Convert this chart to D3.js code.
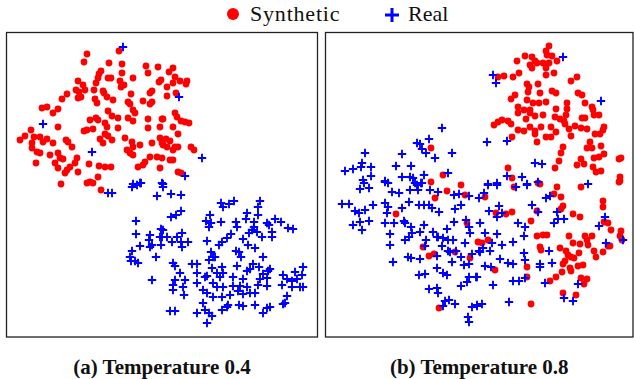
<!DOCTYPE html>
<html>
<head>
<meta charset="utf-8">
<script src="https://cdn.jsdelivr.net/npm/d3@7"></script>
<style>
  body { margin: 0; background: #fff; }
  svg { display: block; }
</style>
</head>
<body>
<svg id="chart" width="634" height="379"></svg>
<script>
// embedding coordinates (picture units)
const syntheticA = [
  [87,54],[84,62],[119,51],[109,63],[122,64],[146,66],[148,73],[158,67],[101,71],[99,74],[122,73],[98,78],[108,78],[111,78],
  [120,81],[133,78],[124,85],[121,87],[161,80],[159,82],[78,81],[83,85],[96,83],[94,90],[103,91],[104,93],[76,90],[79,92],
  [85,90],[67,94],[62,99],[78,98],[81,97],[95,99],[97,103],[107,97],[113,100],[131,94],[128,102],[130,104],[152,91],[150,93],
  [143,101],[152,102],[150,104],[47,107],[42,108],[58,109],[53,113],[108,111],[112,116],[118,118],[133,110],[135,113],[90,120],
  [96,118],[98,120],[93,129],[87,130],[84,131],[105,123],[107,127],[118,128],[128,118],[133,121],[148,119],[148,128],[162,119],
  [160,127],[31,130],[25,136],[20,140],[34,137],[40,137],[32,143],[43,142],[47,139],[53,143],[58,127],[105,134],[108,136],
  [112,140],[100,139],[103,143],[66,140],[68,142],[72,147],[125,138],[132,142],[127,150],[133,147],[140,145],[130,153],[133,155],
  [152,143],[160,138],[162,143],[32,148],[37,152],[40,153],[50,155],[58,153],[60,158],[63,159],[36,163],[77,158],[75,163],
  [70,167],[67,170],[65,173],[58,168],[55,163],[78,172],[89,164],[99,166],[105,167],[111,167],[98,177],[138,167],[143,165],
  [145,162],[150,157],[157,157],[162,158],[160,168],[90,182],[87,183],[93,183],[61,184],[101,190],
  [173,68],[169,72],[175,77],[180,81],[173,83],[187,81],[186,84],[167,87],[176,93],[167,96],[175,113],[177,117],[181,121],
  [185,122],[189,123],[163,119],[173,127],[178,134],[166,139],[170,141],[163,145],[167,147],[175,147],[178,147],[173,150],
  [191,147],[194,150],[170,160],[173,160],[178,172],[181,173]
];

const realA = [
  [123,47],[43,124],[92,152],[133,184],[140,183],[162,183],[179,97],[202,158],[185,176],[163,184],[163,187],
  [108,193],[112,193],[132,187],[137,185],[141,183],[157,196],[136,221],[136,234],[150,235],[149,240],[152,245],[150,247],
  [161,229],[160,237],[161,245],[140,246],[132,251],[130,257],[131,261],[135,261],[138,263],[156,257],[152,280],
  [171,194],[181,195],[221,203],[223,207],[229,204],[234,201],[260,201],[258,207],[247,213],[258,215],[171,217],[176,215],
  [181,211],[210,215],[206,221],[211,223],[209,227],[221,222],[236,222],[237,227],[246,219],[254,222],[254,227],[267,223],
  [269,225],[275,219],[281,222],[288,228],[293,229],[163,230],[162,237],[177,237],[182,233],[167,237],[172,242],[181,242],
  [188,242],[182,247],[207,241],[219,245],[222,242],[227,238],[231,234],[249,233],[252,230],[257,232],[262,237],[243,239],
  [272,232],[272,237],[248,245],[255,248],[211,252],[213,257],[209,260],[215,257],[236,251],[239,252],[241,257],[263,257],
  [173,263],[175,266],[192,264],[197,264],[212,268],[222,267],[237,266],[253,264],[259,267],[268,271],[270,269],[180,273],
  [197,273],[217,273],[223,273],[247,271],[250,269],[263,274],[207,276],[205,277],[220,277],[233,277],[243,279],[260,279],
  [267,278],[303,267],[295,272],[302,275],[283,275],[287,279],[292,281],[297,279],[175,280],[185,280],[173,285],[183,287],
  [173,290],[197,283],[213,283],[217,287],[223,287],[233,286],[240,286],[247,287],[258,285],[267,286],[282,285],[292,287],
  [300,287],[303,287],[203,290],[207,293],[213,297],[222,297],[230,295],[238,291],[243,294],[250,293],[255,293],[184,295],
  [287,296],[203,303],[228,305],[239,305],[243,306],[255,305],[270,307],[267,308],[283,304],[285,303],[205,310],[209,313],
  [212,316],[197,313],[222,310],[227,307],[170,311],[175,311],[263,313],[207,323]
];

const syntheticB = [
  [431,148],[443,175],[431,182],[461,185],
  [549,46],[546,51],[547,55],[552,56],[525,56],[517,61],[532,57],[535,61],[530,65],[532,68],[537,63],[543,63],[549,63],
  [557,61],[546,68],[554,73],[546,75],[498,77],[504,76],[513,77],[519,73],[571,81],[577,77],[527,84],[529,87],[538,84],
  [528,92],[540,93],[552,91],[556,93],[515,95],[511,99],[578,93],[582,95],[527,100],[533,103],[539,103],[546,102],[567,103],
  [585,103],[518,107],[524,110],[530,110],[530,113],[518,113],[535,116],[543,115],[556,109],[567,109],[592,107],[593,110],
  [555,117],[560,119],[566,115],[564,121],[582,118],[585,118],[594,115],[599,115],[526,119],[494,125],[498,122],[502,120],
  [508,121],[511,124],[518,130],[524,131],[530,127],[535,131],[541,127],[551,127],[556,132],[551,137],[565,124],[569,129],
  [575,126],[581,128],[587,129],[604,127],[603,130],[535,134],[546,137],[537,142],[571,136],[595,134],[600,134],[512,137],
  [590,142],[587,148],[592,148],[601,146],[563,147],[561,153],[559,161],[555,168],[581,159],[584,164],[577,165],[594,158],
  [599,157],[604,154],[593,167],[596,172],[601,171],[619,159],[621,158],[620,177],[620,181],[508,168],[512,178],[538,183],
  [447,191],[465,195],[435,198],[396,214],[467,223],[478,242],[423,247],[429,256],[434,254],[455,252],[470,258],[439,308],
  [540,184],[557,187],[581,187],[619,182],[485,197],[514,187],[561,197],[554,194],[603,201],[603,207],[563,206],[561,209],
  [496,213],[506,214],[512,212],[537,211],[573,214],[580,217],[531,221],[604,222],[608,223],[611,230],[621,231],[620,236],
  [622,240],[537,236],[543,235],[547,235],[569,236],[585,236],[592,236],[587,240],[482,243],[488,240],[573,243],[580,244],
  [588,245],[608,246],[610,246],[540,247],[541,250],[560,248],[566,251],[579,253],[594,251],[603,252],[596,257],[568,255],
  [571,257],[574,258],[565,261],[563,264],[562,272],[570,268],[571,271],[578,266],[583,265],[527,267],[495,270],[556,277],
  [550,281],[527,277],[581,278],[587,279],[584,284],[563,293],[576,295],[531,304]
];

const realB = [
  [442,128],[429,139],[417,143],[420,144],[422,149],[426,153],[435,158],[452,153],[365,153],[402,154],[362,163],[345,171],
  [353,169],[361,167],[371,167],[371,176],[396,166],[411,166],[402,177],[410,177],[413,178],[424,175],[448,173],[363,180],
  [385,181],[415,183],[422,183],
  [563,57],[493,75],[496,83],[601,101],[487,142],[507,141],[535,163],[542,164],[507,176],[522,177],[538,182],[527,184],
  [497,183],[488,184],[588,184],
  [364,183],[360,189],[369,188],[385,182],[388,183],[392,192],[399,193],[410,190],[417,185],[421,183],[418,190],[430,190],
  [438,192],[454,195],[459,194],[469,196],[479,198],[342,204],[349,204],[373,205],[385,203],[388,207],[409,202],[419,205],
  [424,205],[429,205],[432,208],[439,212],[402,208],[355,211],[359,213],[365,210],[387,213],[455,209],[461,205],[353,225],
  [360,222],[369,221],[362,230],[385,223],[394,223],[404,221],[405,223],[411,227],[412,233],[420,232],[424,225],[433,232],
  [437,237],[447,229],[454,222],[466,220],[469,227],[470,233],[390,234],[390,245],[405,240],[409,237],[426,240],[438,237],
  [443,238],[448,240],[453,240],[425,246],[442,246],[448,251],[450,252],[456,251],[465,243],[479,251],[472,254],[393,262],
  [408,257],[411,258],[420,259],[437,256],[452,262],[461,257],[464,265],[469,264],[437,268],[443,273],[447,275],[419,275],
  [425,274],[469,277],[476,277],[461,286],[467,282],[429,289],[437,288],[438,293],[445,301],[449,300],[455,304],[443,306],
  [472,307],[477,305],[468,317],[469,322],
  [488,185],[497,185],[516,187],[527,185],[484,193],[546,198],[550,196],[499,206],[489,211],[502,213],[497,217],[532,205],
  [538,212],[557,212],[558,219],[564,219],[554,223],[480,223],[518,223],[525,227],[605,217],[599,226],[485,233],[497,234],
  [524,236],[492,243],[502,245],[513,242],[606,243],[623,240],[483,248],[490,251],[480,252],[524,253],[549,251],[500,259],
  [525,260],[485,266],[491,267],[508,263],[513,264],[540,264],[540,267],[552,263],[477,277],[493,285],[513,281],[519,281],
  [525,278],[545,283],[578,284],[564,298],[573,301],[482,304],[477,306],[509,302]
];

const seriesNames = ['Synthetic', 'Real'];
const captions = ['(a) Temperature 0.4', '(b) Temperature 0.8'];

const RED = '#ff0000';
const BLUE = '#0000ff';
const FONT = "'Liberation Serif'";

const svg = d3.select('#chart');

const panels = [
  { box: { x0: 6.5, x1: 317.5, y0: 32.5, y1: 337 }, synth: syntheticA, real: realA, caption: captions[0] },
  { box: { x0: 325.5, x1: 633, y0: 32.5, y1: 337 }, synth: syntheticB, real: realB, caption: captions[1] }
];

const crossPath = 'M-4.2,0H4.2M0,-4.2V4.2';

panels.forEach(function(p) {
  const b = p.box;
  // domain is in the figure's own units, range is the panel rectangle
  const x = d3.scaleLinear().domain([b.x0, b.x1]).range([b.x0, b.x1]);
  const y = d3.scaleLinear().domain([b.y0, b.y1]).range([b.y0, b.y1]);

  const g = svg.append('g');

  g.append('rect')
    .attr('x', b.x0)
    .attr('y', b.y0)
    .attr('width', b.x1 - b.x0)
    .attr('height', b.y1 - b.y0)
    .attr('fill', 'none')
    .attr('stroke', '#222')
    .attr('stroke-width', 1.3);

  g.append('g')
    .selectAll('circle')
    .data(p.synth)
    .enter()
    .append('circle')
    .attr('cx', function(d) { return x(d[0]); })
    .attr('cy', function(d) { return y(d[1]); })
    .attr('r', 3.4)
    .attr('fill', RED);

  g.append('g')
    .selectAll('path')
    .data(p.real)
    .enter()
    .append('path')
    .attr('d', crossPath)
    .attr('transform', function(d) { return 'translate(' + x(d[0]) + ',' + y(d[1]) + ')'; })
    .attr('stroke', BLUE)
    .attr('stroke-width', 1.9)
    .attr('fill', 'none');

  svg.append('text')
    .attr('x', (b.x0 + b.x1) / 2)
    .attr('y', 374)
    .attr('text-anchor', 'middle')
    .style('font-family', FONT)
    .style('font-weight', 'bold')
    .style('font-size', '21px')
    .attr('fill', '#111')
    .text(p.caption);
});

// legend
const legend = svg.append('g');

legend.append('circle')
  .attr('cx', 233)
  .attr('cy', 14)
  .attr('r', 6)
  .attr('fill', RED);

legend.append('text')
  .attr('x', 250)
  .attr('y', 21)
  .attr('fill', '#111')
  .style('font-family', FONT)
  .style('font-size', '22px')
  .style('letter-spacing', '0.8px')
  .text(seriesNames[0]);

legend.append('path')
  .attr('d', 'M-7,0H7M0,-7V7')
  .attr('transform', 'translate(392,15)')
  .attr('stroke', BLUE)
  .attr('stroke-width', 3);

legend.append('text')
  .attr('x', 408)
  .attr('y', 21)
  .attr('fill', '#111')
  .style('font-family', FONT)
  .style('font-size', '22px')
  .text(seriesNames[1]);
</script>
</body>
</html>
